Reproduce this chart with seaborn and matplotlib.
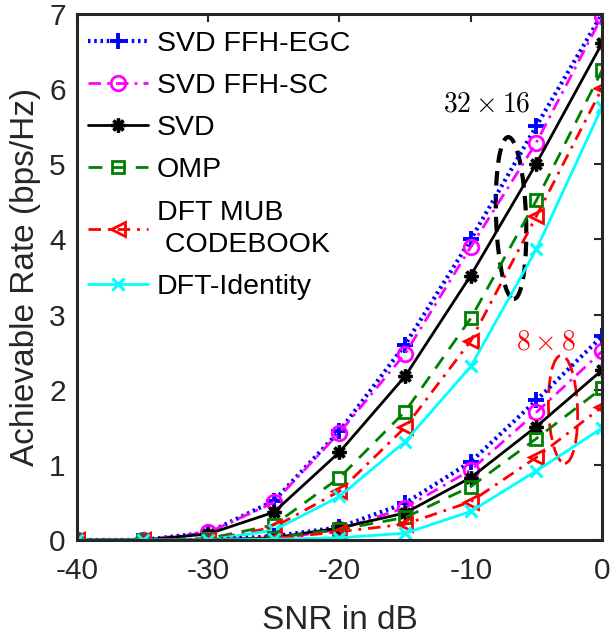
import numpy as np
import pandas as pd
import matplotlib
matplotlib.use("Agg")
import matplotlib.pyplot as plt
import matplotlib.transforms as mtransforms
from matplotlib.patches import Ellipse
import seaborn as sns

# SNR grid (dB)
snr = [-40, -35, -30, -25, -20, -15, -10, -5, 0]

# 32 x 16 array
egc_32 = [0, 0, 0.10, 0.52, 1.45, 2.60, 4.00, 5.51, 7.00]
sc_32 = [0, 0, 0.10, 0.50, 1.43, 2.48, 3.90, 5.29, 6.97]
svd_32 = [0, 0, 0.08, 0.37, 1.17, 2.18, 3.52, 5.01, 6.61]
omp_32 = [0, 0, 0.02, 0.20, 0.83, 1.71, 2.95, 4.52, 6.25]
mub_32 = [0, 0, 0.00, 0.17, 0.65, 1.50, 2.65, 4.31, 6.01]
ident_32 = [0, 0, 0.00, 0.13, 0.58, 1.31, 2.31, 3.87, 5.76]

# 8 x 8 array
egc_8 = [0, 0, 0.00, 0.05, 0.17, 0.49, 1.04, 1.86, 2.71]
sc_8 = [0, 0, 0.00, 0.01, 0.14, 0.43, 0.93, 1.70, 2.51]
svd_8 = [0, 0, 0.00, 0.03, 0.16, 0.36, 0.83, 1.51, 2.26]
omp_8 = [0, 0, 0.00, 0.03, 0.14, 0.30, 0.71, 1.35, 2.02]
mub_8 = [0, 0, 0.00, 0.02, 0.11, 0.21, 0.51, 1.10, 1.77]
ident_8 = [0, 0, 0.00, 0.01, 0.03, 0.09, 0.38, 0.92, 1.49]

labels = ["SVD FFH-EGC", "SVD FFH-SC", "SVD", "OMP",
          "DFT MUB\n CODEBOOK", "DFT-Identity"]
x_ticks = [-40, -30, -20, -10, 0]
y_ticks = [0, 1, 2, 3, 4, 5, 6, 7]

sns.set_theme(style="white")
plt.rcParams["font.family"] = ["Liberation Sans", "DejaVu Sans"]
plt.rcParams["mathtext.fontset"] = "cm"

styles = [
    dict(color=(0, 0, 1), marker="+", linestyle=(0, (0.6, 0.9)), lw=3.0,
         ms=11, mew=2.8, mfc="none"),
    dict(color=(1, 0, 1), marker="o", linestyle=(0, (4.5, 2.2, 1.0, 2.2)), lw=2.0,
         ms=10.5, mew=2.0, mfc="none"),
    dict(color="black", marker=(8, 2, 0), linestyle="-", lw=2.0,
         ms=10, mew=2.4, mfc="none"),
    dict(color=(0, 0.5, 0), marker="s", linestyle=(0, (5, 3.5)), lw=2.0,
         ms=8, mew=2.0, mfc="none"),
    dict(color=(1, 0, 0), marker="<", linestyle=(0, (4.5, 2.5, 1.0, 2.5)), lw=2.0,
         ms=10.5, mew=2.0, mfc="none"),
    dict(color=(0, 1, 1), marker="x", linestyle="-", lw=2.0,
         ms=8, mew=2.2, mfc="none"),
]

upper = [egc_32, sc_32, svd_32, omp_32, mub_32, ident_32]
lower = [egc_8, sc_8, svd_8, omp_8, mub_8, ident_8]

fig = plt.figure(figsize=(6.1, 6.35), dpi=100)
ax = fig.add_axes([0.1262, 0.1496, 0.8607, 0.8283])

for group, with_label in ((upper, True), (lower, False)):
    for vals, lab, st in zip(group, labels, styles):
        df = pd.DataFrame({"snr": snr, "rate": vals})
        sns.lineplot(data=df, x="snr", y="rate", ax=ax, estimator=None,
                     sort=False, color=st["color"], marker=st["marker"],
                     linestyle=st["linestyle"], linewidth=st["lw"],
                     markersize=st["ms"], markeredgewidth=st["mew"],
                     markerfacecolor=st["mfc"], markeredgecolor=st["color"],
                     label=lab if with_label else None, legend=False)

ax.set_xlim(-40, 0)
ax.set_ylim(0, 7)
ax.set_xticks(x_ticks)
ax.set_yticks(y_ticks)
ax.set_xticklabels([str(t) for t in x_ticks])
ax.set_yticklabels([str(t) for t in y_ticks])

frame_c = "#262626"
for sp in ax.spines.values():
    sp.set_color(frame_c)
    sp.set_linewidth(2.2)
ax.tick_params(axis="both", direction="in", length=6, width=1.5,
               colors=frame_c, labelcolor=frame_c, labelsize=21.5,
               top=True, right=True)
ax.tick_params(axis="x", pad=12)
ax.tick_params(axis="y", pad=8)

ax.set_xlabel("SNR in dB", fontsize=24, color=frame_c)
ax.set_ylabel("Achievable Rate (bps/Hz)", fontsize=24, color=frame_c)
ax.xaxis.set_label_coords(0.5, -0.124)
ax.yaxis.set_label_coords(-0.068, 0.5)

leg = ax.legend(loc="upper left", bbox_to_anchor=(0.0, 0.99), frameon=False,
                fontsize=20.5, handlelength=2.1, handletextpad=0.3,
                labelspacing=0.57, borderaxespad=0.0, borderpad=0.4,
                numpoints=1)
for t in leg.get_texts():
    t.set_color("black")
    t.set_linespacing(1.3)

# array-size call-outs
def ring(xc, yc, w_in, h_in, ang, color, lw, dashes):
    tr = fig.dpi_scale_trans + mtransforms.ScaledTranslation(xc, yc, ax.transData)
    e = Ellipse((0, 0), w_in, h_in, angle=ang, transform=tr, fill=False,
                edgecolor=color, linewidth=lw, linestyle=(0, dashes))
    ax.add_patch(e)

ring(-6.93, 4.285, 0.30, 1.62, 2, "black", 3.0, (3.5, 2.0))
ring(-2.97, 1.74, 0.29, 1.08, 2, "red", 2.0, (6.0, 2.5))

ax.text(-8.76, 5.80, r"$32\times16$", fontsize=20, color="black",
        ha="center", va="center")
ax.text(-4.27, 2.635, r"$8\times8$", fontsize=20, color="red",
        ha="center", va="center")

fig.savefig("out.png", dpi=100)
